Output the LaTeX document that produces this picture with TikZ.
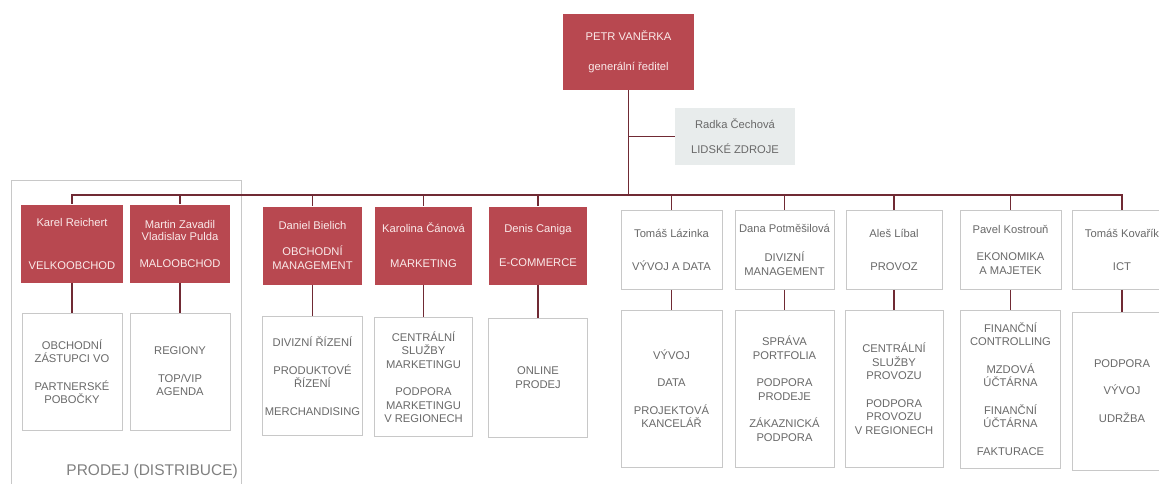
\documentclass[tikz,border=0pt]{standalone}
\usepackage{fontspec}
\setmainfont{Liberation Sans}
\definecolor{headred}{RGB}{184,72,80}
\definecolor{headtext}{RGB}{250,234,234}
\definecolor{linkred}{RGB}{112,42,52}
\definecolor{boxgray}{RGB}{200,200,200}
\definecolor{textgray}{RGB}{105,105,105}
\definecolor{hrfill}{RGB}{232,236,236}

\begin{document}
\begin{tikzpicture}[x=1pt,y=-1pt,
    font=\fontsize{11.2}{13.5}\selectfont,
    every node/.style={align=center,inner sep=1pt},
    redhead/.style={fill=headred,text=headtext,minimum width=100,minimum height=78},
    grayhead/.style={draw=boxgray,line width=0.8pt,fill=white,text=textgray,minimum width=100,minimum height=79},
    hrbox/.style={fill=hrfill,text=textgray,minimum width=120,minimum height=57},
    unit/.style={draw=boxgray,line width=0.8pt,fill=white,text=textgray,minimum width=100,minimum height=#1},
    link/.style={draw=linkred,line width=1.6pt},
    elbow/.style={to path={-| (\tikztotarget)}}]
  \useasboundingbox (0,0) rectangle (1159,483);
  \clip (0,0) rectangle (1159,483);

  % sales group frame
  \draw[boxgray,line width=0.8pt] (11,180) rectangle (241,500);
  \node[font=\fontsize{15.5}{18}\selectfont,text=textgray!85,anchor=east] (prodej) at (239,471) {PRODEJ (DISTRIBUCE)};

  % top
  \node[redhead,minimum width=131,minimum height=76] (ceo) at (628.5,52) {PETR VANĚRKA\\[16.5pt]generální ředitel};
  \node[hrbox] (hr) at (735,136.5) {Radka Čechová\\[11.5pt]LIDSKÉ ZDROJE};
  \coordinate (bus) at (628.5,195);

  % heads
  \node[redhead,minimum width=102] (karel) at (72,243.5) {Karel Reichert\\[29.5pt]VELKOOBCHOD};
  \node[redhead] (martin) at (180,243.5) {Martin Zavadil\\[-1.5pt]Vladislav Pulda\\[13.5pt]MALOOBCHOD};
  \node[redhead,minimum width=99] (daniel) at (312.5,245.5) {Daniel Bielich\\[12.5pt]OBCHODNÍ\\MANAGEMENT};
  \node[redhead,minimum width=97] (karolina) at (423.5,245.5) {Karolina Čánová\\[21.5pt]MARKETING};
  \node[redhead,minimum width=98] (denis) at (538,245.5) {Denis Caniga\\[20.5pt]E-COMMERCE};
  \node[grayhead,minimum width=101] (lazinka) at (671.5,250) {Tomáš Lázinka\\[19.5pt]VÝVOJ A DATA};
  \node[grayhead,minimum width=99] (potmesilova) at (784.5,250) {Dana Potměšilová\\[15.5pt]DIVIZNÍ\\MANAGEMENT};
  \node[grayhead,minimum width=96] (libal) at (894,250) {Aleš Líbal\\[19.5pt]PROVOZ};
  \node[grayhead,minimum width=101] (kostroun) at (1010.5,250) {Pavel Kostrouň\\[13.5pt]EKONOMIKA\\A MAJETEK};
  \node[grayhead] (kovarik) at (1122,250) {Tomáš Kovařík\\[19.5pt]ICT};

  % units
  \node[unit=117] (karelsub) at (72,371.5) {OBCHODNÍ\\ZÁSTUPCI VO\\[14pt]PARTNERSKÉ\\POBOČKY};
  \node[unit=117] (martinsub) at (180,371.5) {REGIONY\\[14pt]TOP/VIP\\AGENDA};
  \node[unit=119] (danielsub) at (312.5,376) {DIVIZNÍ ŘÍZENÍ\\[14pt]PRODUKTOVÉ\\ŘÍZENÍ\\[14pt]MERCHANDISING};
  \node[unit=119,minimum width=98] (karolinasub) at (423.5,377) {CENTRÁLNÍ\\SLUŽBY\\MARKETINGU\\[14pt]PODPORA\\MARKETINGU\\V REGIONECH};
  \node[unit=119,minimum width=99] (denissub) at (538,377.5) {ONLINE\\PRODEJ};
  \node[unit=157,minimum width=101] (lazinkasub) at (671.5,388.5) {VÝVOJ\\[14pt]DATA\\[14pt]PROJEKTOVÁ\\KANCELÁŘ};
  \node[unit=157,minimum width=99] (potmesilovasub) at (784.5,388.5) {SPRÁVA\\PORTFOLIA\\[14pt]PODPORA\\PRODEJE\\[14pt]ZÁKAZNICKÁ\\PODPORA};
  \node[unit=157,minimum width=98] (libalsub) at (894,388.5) {CENTRÁLNÍ\\SLUŽBY\\PROVOZU\\[14pt]PODPORA\\PROVOZU\\V REGIONECH};
  \node[unit=158] (kostrounsub) at (1010.5,389) {FINANČNÍ\\CONTROLLING\\[14pt]MZDOVÁ\\ÚČTÁRNA\\[14pt]FINANČNÍ\\ÚČTÁRNA\\[14pt]FAKTURACE};
  \node[unit=158] (kovariksub) at (1122,391) {PODPORA\\[14pt]VÝVOJ\\[14pt]UDRŽBA};

  \path[link]
    (ceo) edge (bus)
    (ceo |- hr) edge (hr)
    (bus) edge[elbow] (karel)
    (bus) edge[elbow] (martin)
    (bus) edge[elbow] (daniel)
    (bus) edge[elbow] (karolina)
    (bus) edge[elbow] (denis)
    (bus) edge[elbow] (lazinka)
    (bus) edge[elbow] (potmesilova)
    (bus) edge[elbow] (libal)
    (bus) edge[elbow] (kostroun)
    (bus) edge[elbow] (kovarik)
    (karel) edge (karelsub)
    (martin) edge (martinsub)
    (daniel) edge (danielsub)
    (karolina) edge (karolinasub)
    (denis) edge (denissub)
    (lazinka) edge (lazinkasub)
    (potmesilova) edge (potmesilovasub)
    (libal) edge (libalsub)
    (kostroun) edge (kostrounsub)
    (kovarik) edge (kovariksub);
\end{tikzpicture}
\end{document}
